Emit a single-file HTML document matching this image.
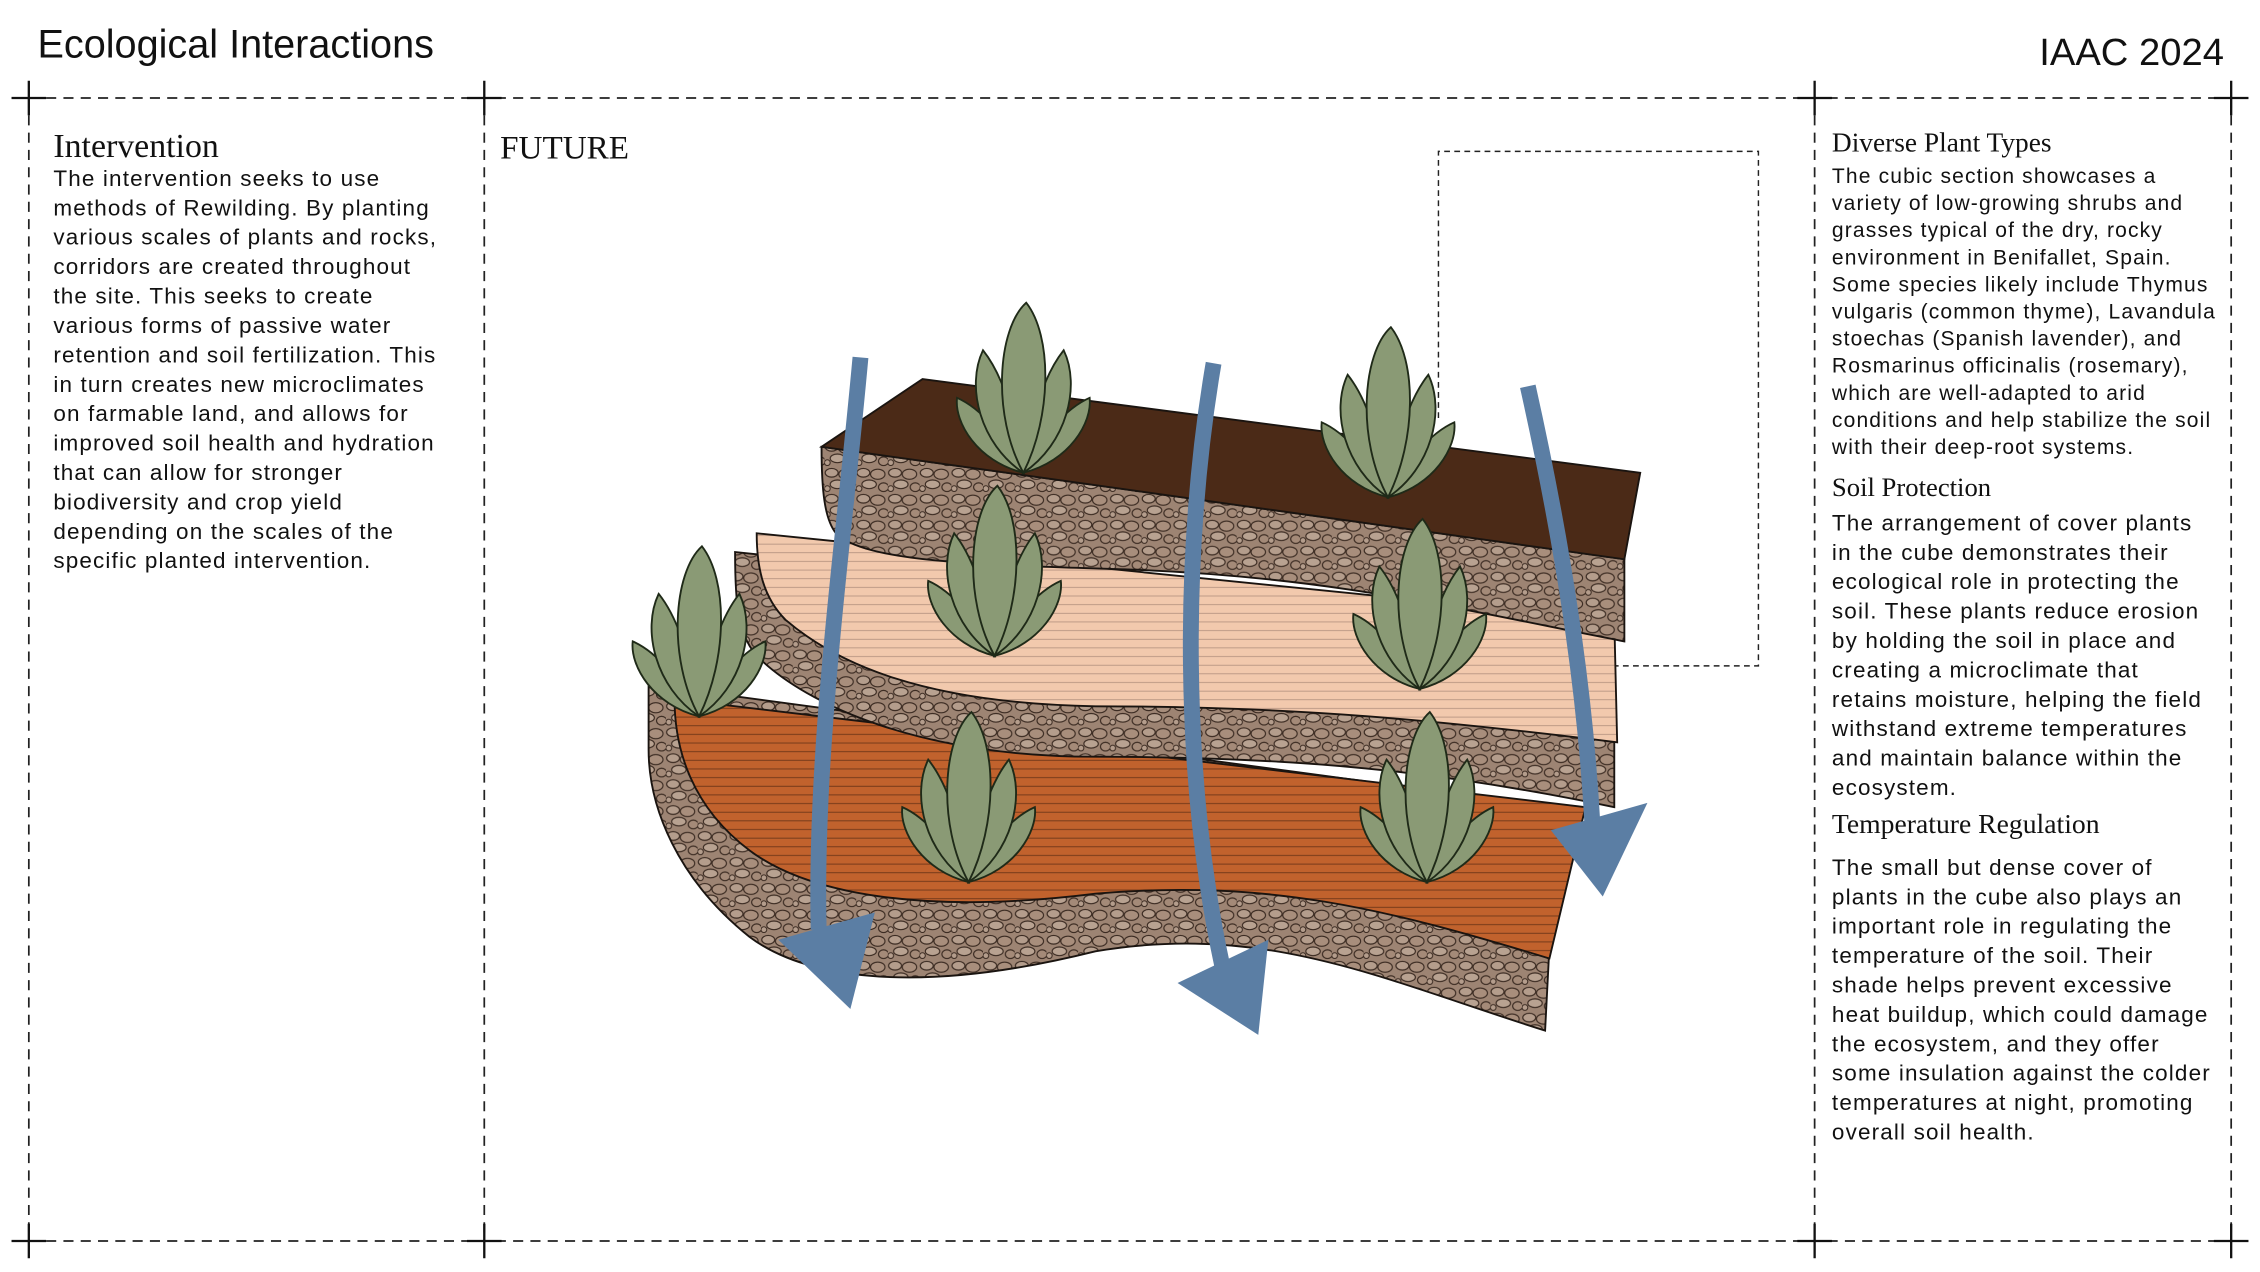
<!DOCTYPE html>
<html><head><meta charset="utf-8"><style>
html,body{margin:0;padding:0;background:#fff;}
svg{display:block}
.b{font-family:"Liberation Sans",sans-serif;fill:#111}
.bd{letter-spacing:0.8px}
.s{font-family:"Liberation Serif",serif;fill:#111}
</style></head><body>
<svg width="2260" height="1272" viewBox="0 0 1568 882.5" xmlns="http://www.w3.org/2000/svg">
<defs>
<pattern id="peb" width="22" height="18" patternUnits="userSpaceOnUse">
<rect width="22" height="18" fill="#9d8473"/>
<ellipse cx="5" cy="4" rx="4.5" ry="3" fill="#b49d8c" stroke="#3b2b22" stroke-width="0.8"/>
<ellipse cx="15" cy="5" rx="5" ry="3.5" fill="#a88e7c" stroke="#3b2b22" stroke-width="0.8"/>
<ellipse cx="9" cy="12" rx="5" ry="3" fill="#b8a291" stroke="#3b2b22" stroke-width="0.8"/>
<ellipse cx="19" cy="14" rx="3.5" ry="3" fill="#a48a78" stroke="#3b2b22" stroke-width="0.8"/>
<ellipse cx="2" cy="15" rx="2" ry="2" fill="#b49d8c" stroke="#3b2b22" stroke-width="0.7"/>
</pattern>
<pattern id="pink" width="10" height="6" patternUnits="userSpaceOnUse">
<rect width="10" height="6" fill="#f2c9ad"/><line x1="0" y1="5.5" x2="10" y2="5.5" stroke="#a98a78" stroke-width="0.5"/>
</pattern>
<pattern id="orng" width="10" height="6" patternUnits="userSpaceOnUse">
<rect width="10" height="6" fill="#c1622d"/><line x1="0" y1="5.5" x2="10" y2="5.5" stroke="#6b3518" stroke-width="0.6"/>
</pattern>
<g id="plant">
<path d="M0,0 C-32,-8 -48,-35 -46,-52 C-30,-45 -12,-25 0,0Z" fill="#8a9a75" stroke="#1f2a18" stroke-width="1.3"/>
<path d="M0,0 C32,-8 48,-35 46,-52 C30,-45 12,-25 0,0Z" fill="#8a9a75" stroke="#1f2a18" stroke-width="1.3"/>
<path d="M0,0 C-30,-20 -40,-60 -28,-85 C-12,-65 -4,-30 0,0Z" fill="#8a9a75" stroke="#1f2a18" stroke-width="1.3"/>
<path d="M0,0 C30,-20 40,-60 28,-85 C12,-65 4,-30 0,0Z" fill="#8a9a75" stroke="#1f2a18" stroke-width="1.3"/>
<path d="M0,0 C-22,-40 -18,-100 2,-118 C20,-95 20,-40 0,0Z" fill="#8a9a75" stroke="#1f2a18" stroke-width="1.3"/>
</g>
</defs>

<text class="b" x="26" y="40" font-size="27.5">Ecological Interactions</text>
<text class="b" x="1543" y="45" font-size="26.5" text-anchor="end">IAAC 2024</text>

<g stroke="#222" stroke-width="1.2" stroke-dasharray="7,5" fill="none">
<line x1="20" y1="68" x2="1548" y2="68"/><line x1="20" y1="861" x2="1548" y2="861"/>
<line x1="20" y1="68" x2="20" y2="861"/><line x1="336" y1="68" x2="336" y2="861"/>
<line x1="1259" y1="68" x2="1259" y2="861"/><line x1="1548" y1="68" x2="1548" y2="861"/>
</g>
<g stroke="#111" stroke-width="1.6">
<path d="M8,68h24M20,56v24M324,68h24M336,56v24M1247,68h24M1259,56v24M1536,68h24M1548,56v24"/>
<path d="M8,861h24M20,849v24M324,861h24M336,849v24M1247,861h24M1259,849v24M1536,861h24M1548,849v24"/>
</g>

<text class="s" x="37" y="109" font-size="23.5">Intervention</text>
<g class="b bd" font-size="15.6">
<text x="37" y="129">The intervention seeks to use</text>
<text x="37" y="149.4">methods of Rewilding. By planting</text>
<text x="37" y="169.8">various scales of plants and rocks,</text>
<text x="37" y="190.2">corridors are created throughout</text>
<text x="37" y="210.6">the site. This seeks to create</text>
<text x="37" y="231">various forms of passive water</text>
<text x="37" y="251.4">retention and soil fertilization. This</text>
<text x="37" y="271.8">in turn creates new microclimates</text>
<text x="37" y="292.2">on farmable land, and allows for</text>
<text x="37" y="312.6">improved soil health and hydration</text>
<text x="37" y="333">that can allow for stronger</text>
<text x="37" y="353.4">biodiversity and crop yield</text>
<text x="37" y="373.8">depending on the scales of the</text>
<text x="37" y="394.2">specific planted intervention.</text>
</g>

<text class="s" x="347" y="110" font-size="23">FUTURE</text>

<path d="M998,290V105H1220V462H1120" fill="none" stroke="#222" stroke-width="1" stroke-dasharray="4,3"/>

<g stroke="#1a1410" stroke-width="1.3">
<path d="M450,475 L1080,560 L1072,715 C960,680 880,640 760,660 C640,690 560,680 520,650 C470,610 450,560 450,520Z" fill="url(#peb)"/>
<path d="M468,485 L1100,560 L1075,665 C960,630 880,610 760,620 C640,635 560,620 520,590 C480,560 468,520 468,485Z" fill="url(#orng)"/>
<path d="M510,383 L1120,445 L1120,560 C1000,535 900,525 760,525 C640,525 560,490 525,455 C512,440 510,420 510,383Z" fill="url(#peb)"/>
<path d="M525,370 L1120,430 L1122,515 C1000,500 900,490 760,490 C640,488 580,460 545,430 C530,415 525,395 525,370Z" fill="url(#pink)"/>
<path d="M570,310 L1127,388 L1127,445 C1000,420 920,400 780,395 C680,392 600,390 580,370 C572,360 570,340 570,310Z" fill="url(#peb)"/>
<path d="M640,263 L1138,328 L1127,388 L570,310Z" fill="#4b2a17"/>
</g>

<g>
<use href="#plant" x="710" y="328"/>
<use href="#plant" x="963" y="345"/>
<use href="#plant" x="690" y="455"/>
<use href="#plant" x="985" y="478"/>
<use href="#plant" x="485" y="497"/>
<use href="#plant" x="672" y="612"/>
<use href="#plant" x="990" y="612"/>
</g>

<g fill="#5b7ea4">
<path d="M597,248 C585,380 565,520 568,645" fill="none" stroke="#5b7ea4" stroke-width="11"/>
<path d="M540,652 L607,633 L590,700Z"/>
<path d="M842,252 C820,380 820,540 848,670" fill="none" stroke="#5b7ea4" stroke-width="11"/>
<path d="M817,682 L880,652 L873,718Z"/>
<path d="M1060,268 C1085,380 1100,480 1105,575" fill="none" stroke="#5b7ea4" stroke-width="11"/>
<path d="M1076,576 L1143,557 L1112,622Z"/>
</g>

<text class="s" x="1271" y="105" font-size="19">Diverse Plant Types</text>
<g class="b bd" font-size="14.6">
<text x="1271" y="127">The cubic section showcases a</text>
<text x="1271" y="145.8">variety of low-growing shrubs and</text>
<text x="1271" y="164.6">grasses typical of the dry, rocky</text>
<text x="1271" y="183.4">environment in Benifallet, Spain.</text>
<text x="1271" y="202.2">Some species likely include Thymus</text>
<text x="1271" y="221">vulgaris (common thyme), Lavandula</text>
<text x="1271" y="239.8">stoechas (Spanish lavender), and</text>
<text x="1271" y="258.6">Rosmarinus officinalis (rosemary),</text>
<text x="1271" y="277.4">which are well-adapted to arid</text>
<text x="1271" y="296.2">conditions and help stabilize the soil</text>
<text x="1271" y="315">with their deep-root systems.</text>
</g>
<text class="s" x="1271" y="344" font-size="18.5">Soil Protection</text>
<g class="b bd" font-size="15.6">
<text x="1271" y="368">The arrangement of cover plants</text>
<text x="1271" y="388.4">in the cube demonstrates their</text>
<text x="1271" y="408.8">ecological role in protecting the</text>
<text x="1271" y="429.2">soil. These plants reduce erosion</text>
<text x="1271" y="449.6">by holding the soil in place and</text>
<text x="1271" y="470">creating a microclimate that</text>
<text x="1271" y="490.4">retains moisture, helping the field</text>
<text x="1271" y="510.8">withstand extreme temperatures</text>
<text x="1271" y="531.2">and maintain balance within the</text>
<text x="1271" y="551.6">ecosystem.</text>
</g>
<text class="s" x="1271" y="578" font-size="19.2">Temperature Regulation</text>
<g class="b bd" font-size="15.6">
<text x="1271" y="607">The small but dense cover of</text>
<text x="1271" y="627.4">plants in the cube also plays an</text>
<text x="1271" y="647.8">important role in regulating the</text>
<text x="1271" y="668.2">temperature of the soil. Their</text>
<text x="1271" y="688.6">shade helps prevent excessive</text>
<text x="1271" y="709">heat buildup, which could damage</text>
<text x="1271" y="729.4">the ecosystem, and they offer</text>
<text x="1271" y="749.8">some insulation against the colder</text>
<text x="1271" y="770.2">temperatures at night, promoting</text>
<text x="1271" y="790.6">overall soil health.</text>
</g>
</svg>
</body></html>
